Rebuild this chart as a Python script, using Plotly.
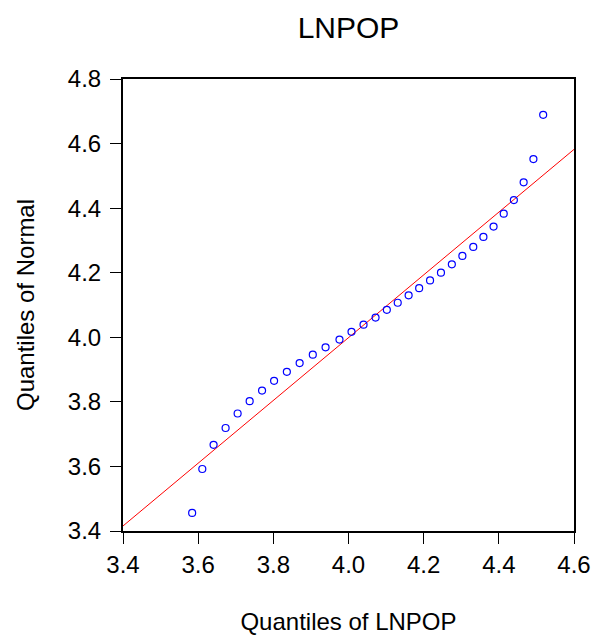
import plotly.graph_objects as go

# Quantiles of LNPOP (x) vs quantiles of Normal (y)
lnpop_q = [3.584, 3.611, 3.641, 3.673, 3.705, 3.737, 3.770, 3.802, 3.836, 3.870,
           3.905, 3.939, 3.976, 4.008, 4.040, 4.072, 4.102, 4.131, 4.160, 4.188,
           4.217, 4.246, 4.275, 4.303, 4.332, 4.359, 4.386, 4.413, 4.440, 4.466,
           4.492, 4.518]
normal_q = [3.456, 3.592, 3.667, 3.719, 3.764, 3.802, 3.835, 3.865, 3.893, 3.920,
            3.946, 3.969, 3.993, 4.017, 4.039, 4.061, 4.085, 4.107, 4.130, 4.152,
            4.176, 4.200, 4.226, 4.252, 4.280, 4.311, 4.343, 4.383, 4.425, 4.480,
            4.552, 4.689]

# Reference line endpoints
line_x = [3.4, 4.6]
line_y = [3.4156, 4.582]

x_ticks = [3.4, 3.6, 3.8, 4.0, 4.2, 4.4, 4.6]
y_ticks = [3.4, 3.6, 3.8, 4.0, 4.2, 4.4, 4.6, 4.8]

FONT = "Liberation Sans, Arial, sans-serif"

fig = go.Figure()
fig.add_trace(go.Scatter(x=line_x, y=line_y, mode="lines",
                         line=dict(color="#FF0000", width=1), showlegend=False,
                         hoverinfo="skip"))
fig.add_trace(go.Scatter(x=lnpop_q, y=normal_q, mode="markers",
                         marker=dict(symbol="circle-open", size=7,
                                     color="#0000FF", line=dict(width=1.2, color="#0000FF")),
                         showlegend=False))

fig.update_layout(
    width=606, height=639,
    margin=dict(l=123, r=32, t=79, b=108),
    paper_bgcolor="white", plot_bgcolor="white",
    font=dict(family=FONT, color="black"),
    title=dict(text="LNPOP", x=(123 + (606 - 32)) / 2 / 606, xanchor="center",
               y=1 - 27 / 639, yanchor="middle",
               font=dict(size=30, family=FONT, color="black")),
    xaxis=dict(range=[3.4, 4.6], tickvals=x_ticks,
               ticktext=[f"{v:.1f}" for v in x_ticks],
               showgrid=False, zeroline=False, automargin=False,
               showline=True, linewidth=2, linecolor="black", mirror=True,
               ticks="outside", ticklen=11, tickwidth=1, tickcolor="black",
               tickfont=dict(size=24, family=FONT, color="black"),
               title=dict(text="Quantiles of LNPOP", standoff=36,
                          font=dict(size=24, family=FONT, color="black"))),
    yaxis=dict(range=[3.4, 4.8], tickvals=y_ticks,
               ticktext=[f"{v:.1f}" for v in y_ticks],
               showgrid=False, zeroline=False, automargin=False,
               showline=True, linewidth=2, linecolor="black", mirror=True,
               ticks="outside", ticklen=11, tickwidth=1, tickcolor="black",
               ticklabelstandoff=4,
               tickfont=dict(size=24, family=FONT, color="black"),
               title=dict(text="Quantiles of Normal", standoff=26,
                          font=dict(size=24, family=FONT, color="black"))),
)

fig.write_html("out.html")
